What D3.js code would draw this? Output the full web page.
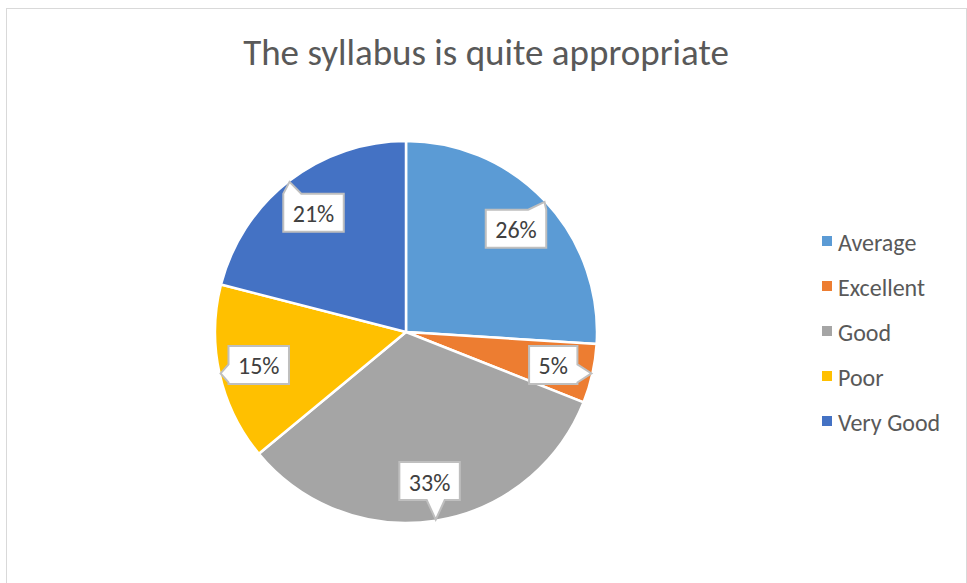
<!DOCTYPE html>
<html>
<head>
<meta charset="utf-8">
<script src="https://cdn.jsdelivr.net/npm/d3@7"></script>
<style>
  body { margin: 0; background: #fff; }
  svg { display: block; font-family: Carlito, Calibri, Lato, "Open Sans", sans-serif; }
</style>
</head>
<body>
<svg id="chart" width="967" height="583"></svg>
<script>
// chart data
const categories = ["Average", "Excellent", "Good", "Poor", "Very Good"];
const values = [26, 5, 33, 15, 21];
const colors = ["#5B9BD5", "#ED7D31", "#A5A5A5", "#FFC000", "#4472C4"];
const title = "The syllabus is quite appropriate";

const svg = d3.select("#chart");

// chart area border
svg.append("rect")
  .attr("x", 6.5).attr("y", 8.5)
  .attr("width", 960).attr("height", 600)
  .attr("fill", "#fff")
  .attr("stroke", "#D9D9D9")
  .attr("stroke-width", 1);

svg.append("text")
  .attr("x", 486).attr("y", 65)
  .attr("text-anchor", "middle")
  .attr("font-size", 37)
  .attr("fill", "#595959")
  .text(title);

const cx = 406, cy = 332, radius = 191;
const color = d3.scaleOrdinal().domain(categories).range(colors);

const pie = d3.pie().sort(null).value(d => d.value);
const data = categories.map((c, i) => ({ name: c, value: values[i] }));
const arcs = pie(data);
const total = d3.sum(values);

const arc = d3.arc().innerRadius(0).outerRadius(radius);
const tipArc = d3.arc().innerRadius(radius - 1).outerRadius(radius - 1);
const boxArc = d3.arc().innerRadius(radius * 0.79).outerRadius(radius * 0.79);

const g = svg.append("g").attr("transform", `translate(${cx},${cy})`);

g.selectAll("path.slice")
  .data(arcs)
  .join("path")
  .attr("class", "slice")
  .attr("d", arc)
  .attr("fill", d => color(d.data.name))
  .attr("stroke", "#fff")
  .attr("stroke-width", 2.5)
  .attr("stroke-linejoin", "round");

// callout labels: box with a wedge pointing to the slice edge
function calloutPath(bx, by, w, h, tx, ty) {
  const x0 = bx - w / 2, x1 = bx + w / 2, y0 = by - h / 2, y1 = by + h / 2;
  const dx = (tx - bx) / (w / 2), dy = (ty - by) / (h / 2);
  const ww = 18;
  const clamp = (v, a, b) => Math.max(a, Math.min(b, v));
  let p;
  if (Math.abs(dy) >= Math.abs(dx)) {
    const c = clamp(tx, x0 + ww / 2, x1 - ww / 2);
    if (dy < 0) {
      p = [[x0, y0], [c - ww / 2, y0], [tx, ty], [c + ww / 2, y0], [x1, y0], [x1, y1], [x0, y1]];
    } else {
      p = [[x0, y0], [x1, y0], [x1, y1], [c + ww / 2, y1], [tx, ty], [c - ww / 2, y1], [x0, y1]];
    }
  } else {
    const c = clamp(ty, y0 + ww / 2, y1 - ww / 2);
    if (dx > 0) {
      p = [[x0, y0], [x1, y0], [x1, c - ww / 2], [tx, ty], [x1, c + ww / 2], [x1, y1], [x0, y1]];
    } else {
      p = [[x0, y0], [x1, y0], [x1, y1], [x0, y1], [x0, c + ww / 2], [tx, ty], [x0, c - ww / 2]];
    }
  }
  return "M" + p.map(q => q.join(",")).join("L") + "Z";
}

const labels = g.selectAll("g.label")
  .data(arcs)
  .join("g")
  .attr("class", "label");

labels.each(function (d) {
  const sel = d3.select(this);
  const txt = Math.round(d.data.value / total * 100) + "%";
  const [bx, by] = boxArc.centroid(d);
  const [tx, ty] = tipArc.centroid(d);
  const t = sel.append("text")
    .attr("x", bx).attr("y", by + 1)
    .attr("text-anchor", "middle")
    .attr("dominant-baseline", "central")
    .attr("font-size", 24)
    .attr("fill", "#404040")
    .text(txt);
  const tw = t.node().getComputedTextLength();
  const w = tw + 19, h = 38;
  sel.insert("path", "text")
    .attr("d", calloutPath(bx, by, w, h, tx, ty))
    .attr("fill", "#fff")
    .attr("stroke", "#BFBFBF")
    .attr("stroke-width", 2);
});

// legend
const legend = svg.append("g").attr("transform", "translate(822,241)");
const rows = legend.selectAll("g")
  .data(categories)
  .join("g")
  .attr("transform", (d, i) => `translate(0,${i * 45})`);
rows.append("rect")
  .attr("x", 0).attr("y", -5)
  .attr("width", 10).attr("height", 10)
  .attr("fill", d => color(d));
rows.append("text")
  .attr("x", 16).attr("y", 1)
  .attr("dominant-baseline", "central")
  .attr("font-size", 24)
  .attr("fill", "#595959")
  .text(d => d);
</script>
</body>
</html>
